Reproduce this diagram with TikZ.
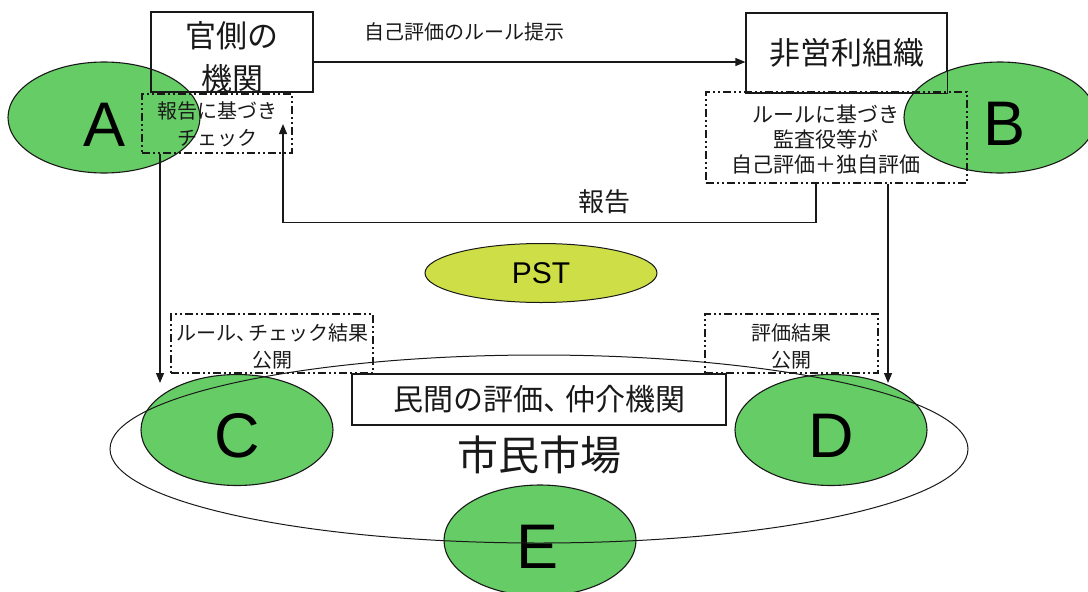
\documentclass[tikz,border=0pt]{standalone}
\usepackage{fontspec}
\setmainfont{Liberation Sans}
\newfontfamily\jp{Noto Sans CJK JP}
\usetikzlibrary{shapes.geometric,arrows.meta,calc}
\definecolor{lgreen}{RGB}{102,204,102}
\definecolor{pstyellow}{RGB}{206,222,70}
\definecolor{ink}{RGB}{25,25,25}
\tikzset{
  solidbox/.style={draw=ink, line width=1.2pt, inner sep=0pt, text=ink},
  dashbox/.style={draw=ink, line width=1.2pt, inner sep=0pt, text=ink,
     dash pattern=on 8pt off 3pt on 2pt off 3pt on 2pt off 3pt},
  greenell/.style={ellipse, draw=ink, line width=1.1pt, fill=lgreen, inner sep=0pt,
     minimum width=192pt, minimum height=111pt, text=black,
     font=\fontsize{63}{63}\selectfont},
  arr/.style={draw=ink, line width=1.2pt, -{Triangle[length=10pt,width=8pt]}},
  smalljp/.style={font=\jp\fontsize{20}{26}\selectfont, text=ink, align=center},
}
\begin{document}
\begin{tikzpicture}[x=1pt,y=-1pt]
\useasboundingbox (0,0) rectangle (1088,592);
\clip (0,0) rectangle (1088,592);

% A ellipse (below boxes)
\node[greenell] (A) at (104,117.5) {};
\node[font=\fontsize{63}{63}\selectfont] (Alab) at (105,125) {A};

% top boxes
\node[solidbox, minimum width=162pt, minimum height=80pt] (kan) at (232,52) {};
\node[align=center, text=ink, font=\jp\fontsize{31}{43}\selectfont] (kantext) at (232,57) {官側の\\機関};
\node[solidbox, minimum width=201pt, minimum height=80pt,
      font=\jp\fontsize{31}{31}\selectfont] (hiei) at (846.5,53) {非営利組織};

% dash boxes top
\node[dashbox, minimum width=150pt, minimum height=59pt] (abox) at (217,123.5) {};
\node[smalljp, font=\jp\fontsize{20}{27}\selectfont] (atext) at (217,124) {報告に基づき\\チェック};

\node[smalljp, font=\jp\fontsize{21}{25}\selectfont] (btext) at (826,140) {ルールに基づき\\監査役等が\\自己評価＋独自評価};
% B ellipse covers part of text
\node[greenell] (B) at (1000,117.5) {};
\node[font=\fontsize{63}{63}\selectfont] (Blab) at (1005,124) {B};
\node[dashbox, minimum width=261pt, minimum height=91pt] (bbox) at (836.5,137.5) {};
% redraw hiei border on top of B
\draw[line width=1.2pt, draw=ink] (hiei.north west) rectangle (hiei.south east);

% top arrow
\draw[arr] ($(kan.east)+(0,10)$) -- ($(hiei.west)+(0,9)$);
\node[font=\jp\fontsize{20}{20}\selectfont, text=ink] (rule) at (464,32) {自己評価のルール提示};

% report path
\coordinate (rs) at (bbox.south -| 816,0);
\coordinate (rtip) at (283,124);
\draw[arr] (rs) -- ++(0,39) -| (rtip);
\node[font=\jp\fontsize{26}{26}\selectfont, text=ink] (hokoku) at (604,202) {報告};

% PST
\node[ellipse, draw=ink, line width=1pt, fill=pstyellow, inner sep=0pt,
      minimum width=232pt, minimum height=59pt,
      font=\fontsize{30}{30}\selectfont] (pst) at (541,273) {PST};

% bottom green ellipses
\node[greenell] (C) at (237,430) {};
\node[font=\fontsize{63}{63}\selectfont] (Clab) at (237,436) {C};
\node[greenell] (D) at (831,430) {};
\node[font=\fontsize{63}{63}\selectfont] (Dlab) at (831,436) {D};
\node[greenell] (E) at (540,540.5) {};
\node[font=\fontsize{63}{63}\selectfont] (Elab) at (538,547) {E};

% big market ellipse
\node[ellipse, draw=ink, line width=1pt, inner sep=0pt,
      minimum width=858pt, minimum height=188pt] (market) at (539,449) {};
\node[font=\jp\fontsize{41}{41}\selectfont, text=ink] (shimin) at (539,455) {市民市場};

% private eval box
\node[solidbox, minimum width=374pt, minimum height=51pt,
      font=\jp\fontsize{30}{30}\selectfont] (minkan) at (539,399.5) {民間の評価、\kern-8pt仲介機関};

% bottom dash boxes
\node[dashbox, minimum width=202pt, minimum height=59pt] (cbox) at (272,343.5) {};
\node[smalljp, font=\jp\fontsize{20}{27}\selectfont] (ctext) at (272,346) {ルール、\kern-8ptチェック結果\\公開};
\node[dashbox, minimum width=173pt, minimum height=59pt] (dbox) at (791.5,343.5) {};
\node[smalljp, font=\jp\fontsize{20}{27}\selectfont] (dtext) at (791.5,346) {評価結果\\公開};

% down arrows
\coordinate (ls) at (abox.south -| 160,0);
\coordinate (ltip) at (160,383);
\draw[arr] (ls) -- (ltip);
\coordinate (rs2) at (bbox.south -| 888,0);
\coordinate (rtip2) at (888,383);
\draw[arr] (rs2) -- (rtip2);
\end{tikzpicture}
\end{document}
